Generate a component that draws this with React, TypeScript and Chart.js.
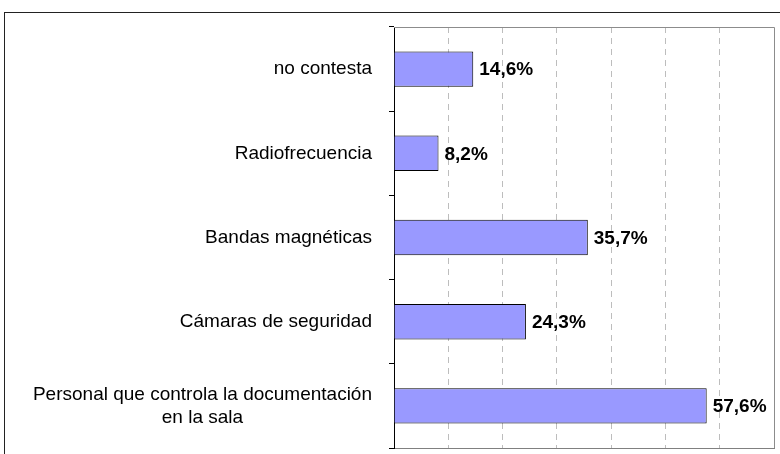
import React, { useEffect, useRef } from "react";
import { Chart, registerables } from "chart.js";

Chart.register(...registerables);

const categories: (string | string[])[] = [
  "no contesta",
  "Radiofrecuencia",
  "Bandas magnéticas",
  "Cámaras de seguridad",
  ["Personal que controla la documentación", "en la sala"],
];
const values: number[] = [14.6, 8.2, 35.7, 24.3, 57.6];
const xTicks: number[] = [0, 10, 20, 30, 40, 50, 60, 70];

const FONT = '"Liberation Sans", Arial, sans-serif';

const framePlugin = {
  id: "frame",
  beforeDraw(chart: any) {
    const ctx = chart.ctx;
    ctx.save();
    ctx.fillStyle = "#ffffff";
    ctx.fillRect(0, 0, chart.width, chart.height);
    ctx.strokeStyle = "#222222";
    ctx.lineWidth = 1;
    ctx.strokeRect(4.5, 12.5, chart.width + 20, chart.height + 20);
    ctx.restore();
  },
  afterDraw(chart: any) {
    const ctx = chart.ctx;
    const a = chart.chartArea;
    ctx.save();
    ctx.strokeStyle = "#8c8c8c";
    ctx.lineWidth = 1;
    ctx.beginPath();
    ctx.moveTo(a.left, Math.round(a.top) + 0.5);
    ctx.lineTo(Math.round(a.right) + 0.5, Math.round(a.top) + 0.5);
    ctx.lineTo(Math.round(a.right) + 0.5, Math.round(a.bottom));
    ctx.stroke();
    ctx.restore();
  },
};

const catLabelPlugin = {
  id: "catLabels",
  afterDraw(chart: any) {
    const ctx = chart.ctx;
    const ys = chart.scales.y;
    const rightEdge = 372;
    const lineH = 23;
    ctx.save();
    ctx.font = `19px ${FONT}`;
    ctx.fillStyle = "#000000";
    ctx.textAlign = "center";
    ctx.textBaseline = "middle";
    categories.forEach((c, i) => {
      const lines = Array.isArray(c) ? c : [c];
      const y = ys.getPixelForTick(i);
      const maxW = Math.max(...lines.map((l) => ctx.measureText(l).width));
      const cx = rightEdge - maxW / 2;
      const startY = y - ((lines.length - 1) * lineH) / 2;
      lines.forEach((l, j) => ctx.fillText(l, cx, startY + j * lineH));
    });
    ctx.restore();
  },
};

const valueLabelPlugin = {
  id: "valueLabels",
  afterDatasetsDraw(chart: any) {
    const ctx = chart.ctx;
    const meta = chart.getDatasetMeta(0);
    ctx.save();
    ctx.font = `bold 19px ${FONT}`;
    ctx.fillStyle = "#000000";
    ctx.textAlign = "left";
    ctx.textBaseline = "middle";
    meta.data.forEach((bar: any, i: number) => {
      const txt = values[i].toFixed(1).replace(".", ",") + "%";
      ctx.fillText(txt, bar.x + 6, bar.y + 1);
    });
    ctx.restore();
  },
};

export default function App() {
  const ref = useRef<HTMLCanvasElement | null>(null);

  useEffect(() => {
    document.body.style.margin = "0";
    if (!ref.current) return;
    const chart = new Chart(ref.current, {
      type: "bar",
      data: {
        labels: categories as any,
        datasets: [
          {
            data: values,
            backgroundColor: "#9999ff",
            borderColor: "#000000",
            borderWidth: 1,
            barPercentage: 0.42,
            categoryPercentage: 1,
          },
        ],
      },
      options: {
        indexAxis: "y",
        responsive: false,
        animation: false,
        devicePixelRatio: 1,
        layout: { padding: { top: 27, right: 6, bottom: 6, left: 0 } },
        plugins: {
          legend: { display: false },
          tooltip: { enabled: false },
          title: { display: false },
        },
        scales: {
          x: {
            type: "linear",
            min: 0,
            max: 70,
            afterBuildTicks: (scale: any) => {
              scale.ticks = xTicks.map((v) => ({ value: v }));
            },
            ticks: { display: false, stepSize: 10 },
            grid: {
              drawTicks: false,
              lineWidth: 1,
              color: (ctx: any) =>
                ctx.tick && (ctx.tick.value === 0 || ctx.tick.value === 70)
                  ? "rgba(0,0,0,0)"
                  : "#bdbdbd",
            },
            border: { display: true, color: "#808080", width: 1, dash: [6, 5] },
            afterFit: (scale: any) => {
              scale.height = 0;
            },
          },
          y: {
            type: "category",
            offset: true,
            ticks: { display: false },
            grid: {
              offset: true,
              drawOnChartArea: false,
              drawTicks: true,
              tickLength: 5,
              color: "#000000",
              tickColor: "#000000",
            },
            border: { display: true, color: "#000000", width: 1 },
            afterFit: (scale: any) => {
              scale.width = 394;
            },
          },
        },
      },
      plugins: [framePlugin, catLabelPlugin, valueLabelPlugin],
    });
    return () => chart.destroy();
  }, []);

  return (
    <div style={{ width: 780, height: 454 }}>
      <canvas ref={ref} width={780} height={454} style={{ display: "block" }} />
    </div>
  );
}
